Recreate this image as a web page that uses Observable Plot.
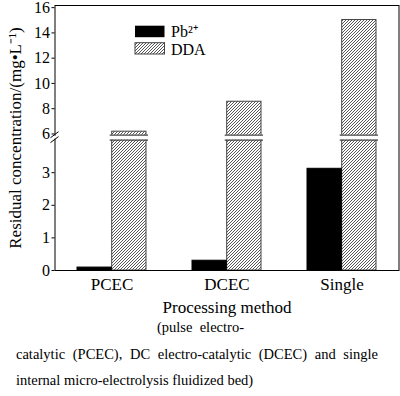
<!DOCTYPE html>
<html>
<head>
<meta charset="utf-8">
<script src="https://cdn.jsdelivr.net/npm/d3@7"></script>
<script src="https://cdn.jsdelivr.net/npm/@observablehq/plot@0.6"></script>
<style>
  html, body { margin: 0; padding: 0; background: #fff; }
  #wrap { position: relative; width: 400px; height: 396px; overflow: hidden; font-family: 'Liberation Serif', 'Times New Roman', serif; color: #000; }
  #chart { position: absolute; left: 0; top: 0; }
  .cap { position: absolute; font-size: 14.5px; line-height: 18px; white-space: nowrap; }
  #cap1 { left: 157px; top: 318px; }
  #cap2 { left: 16px; width: 362px; top: 345px; text-align: justify; text-align-last: justify; white-space: normal; }
  #cap3 { left: 16px; top: 371px; }
</style>
</head>
<body>
<div id="wrap">
  <div id="chart"></div>
  <div class="cap" id="cap1">(pulse&nbsp; electro-</div>
  <div class="cap" id="cap2">catalytic (PCEC), DC electro-catalytic (DCEC) and single</div>
  <div class="cap" id="cap3">internal micro-electrolysis fluidized bed)</div>
</div>
<script>
// ---- data ----
const methods = ["PCEC", "DCEC", "Single"];
const pbValues = [0.09, 0.3, 3.12];
const ddaValues = [6.18, 8.55, 15.02];
const seriesNames = ["Pb\u00B2\u207A", "DDA"];
const yTicks = [0, 1, 2, 3, 6, 8, 10, 12, 14, 16];
const yBreak = [4, 5.9];

const pbData = methods.map((m, i) => ({method: m, value: pbValues[i]}));
const ddaData = methods.map((m, i) => ({method: m, value: ddaValues[i]}));

// broken-axis transform: lower part 0..4 at full scale, a tiny gap, upper part compressed
const gapUnits = 0.15, upperRatio = 12.63 / 32.6;
function brk(v) {
  if (v <= yBreak[0]) return v;
  if (v <= yBreak[1]) return yBreak[0] + (v - yBreak[0]) / (yBreak[1] - yBreak[0]) * gapUnits;
  return yBreak[0] + gapUnits + (v - yBreak[1]) * upperRatio;
}
const tickPos = yTicks.map(brk);
const tickLabel = t => {
  const i = tickPos.findIndex(p => Math.abs(p - t) < 1e-6);
  return i >= 0 ? String(yTicks[i]) : "";
};

const half = 34.7;
const HATCH_KEY = "#bbbbbc";

const plot = Plot.plot({
  width: 400,
  height: 318,
  marginLeft: 54.5,
  marginRight: 1.5,
  marginTop: 5,
  marginBottom: 48,
  style: {fontFamily: "'Liberation Serif', 'Times New Roman', serif", fontSize: "17px", color: "#000", background: "#fff"},
  x: {domain: methods, paddingInner: 0.4, paddingOuter: 0.19, label: "Processing method", labelArrow: false, tickSize: 0, tickPadding: 7, labelAnchor: "center", labelOffset: 42},
  y: {transform: brk, domain: [0, 8.129], ticks: tickPos, tickFormat: tickLabel, tickSize: 3, tickPadding: 2, label: "Residual concentration/(mg\u2022L\u207B\u00B9)", labelArrow: false, labelAnchor: "center", labelOffset: 46},
  marks: [
    Plot.barY(ddaData, {x: "method", y: "value", insetLeft: half, fill: HATCH_KEY, stroke: "#444", strokeWidth: 1}),
    Plot.barY(pbData, {x: "method", y: "value", insetRight: half, fill: "#000", stroke: "#000", strokeWidth: 1}),
    Plot.barY(ddaData, {x: "method", y1: yBreak[0], y2: yBreak[1], insetLeft: half - 2, insetRight: -2, fill: "#fff", stroke: "none"}),
    Plot.tickY(ddaData, {x: "method", y: yBreak[0], insetLeft: half - 2, insetRight: -2, stroke: "#444", strokeWidth: 1.2}),
    Plot.tickY(ddaData, {x: "method", y: yBreak[1], insetLeft: half - 2, insetRight: -2, stroke: "#444", strokeWidth: 1.2}),
    Plot.frame({stroke: "#000", strokeWidth: 1})
  ]
});
document.getElementById("chart").appendChild(plot);

const svg = d3.select(plot);
// hatch pattern
const defs = svg.insert("defs", ":first-child");
const pat = defs.append("pattern").attr("id", "hatch").attr("patternUnits", "userSpaceOnUse").attr("width", 3).attr("height", 3);
pat.append("rect").attr("width", 3).attr("height", 3).attr("fill", "#fff");
pat.append("path").attr("d", "M-1,1 l2,-2 M0,3 l3,-3 M2,4 l2,-2").attr("stroke", "#444").attr("stroke-width", 0.9);
svg.selectAll("[fill='" + HATCH_KEY + "']").attr("fill", "url(#hatch)");

// y tick labels slightly smaller
svg.selectAll("g[aria-label='y-axis tick label']").attr("font-size", 16);

// y-axis break
const y = plot.scale("y");
const usesT = Math.abs(y.apply(16) - 7.1) < 4;
const py = v => usesT ? y.apply(v) : y.apply(brk(v));
const x0 = 54.5;
const yb0 = py(yBreak[0]), yb1 = py(yBreak[1]);
svg.append("rect").attr("x", x0 - 2).attr("y", yb1 + 1).attr("width", 4).attr("height", yb0 - yb1 - 2).attr("fill", "#fff");
[yb1, yb0].forEach(yy => {
  svg.append("line").attr("x1", x0 - 4).attr("y1", yy + 3).attr("x2", x0 + 4).attr("y2", yy - 3).attr("stroke", "#000").attr("stroke-width", 1);
});

// legend
const lg = svg.append("g").attr("text-anchor", "start");
const lx = 135, ly = [25.7, 42.7];
lg.append("rect").attr("x", lx).attr("y", ly[0]).attr("width", 29.5).attr("height", 11.5).attr("fill", "#000");
lg.append("rect").attr("x", lx).attr("y", ly[1]).attr("width", 29.5).attr("height", 11.3).attr("fill", "url(#hatch)").attr("stroke", "#444");
lg.append("text").attr("x", 171).attr("y", 36.5).attr("font-size", 16).text(seriesNames[0]);
lg.append("text").attr("x", 171).attr("y", 55).attr("font-size", 16).text(seriesNames[1]);
</script>
</body>
</html>
